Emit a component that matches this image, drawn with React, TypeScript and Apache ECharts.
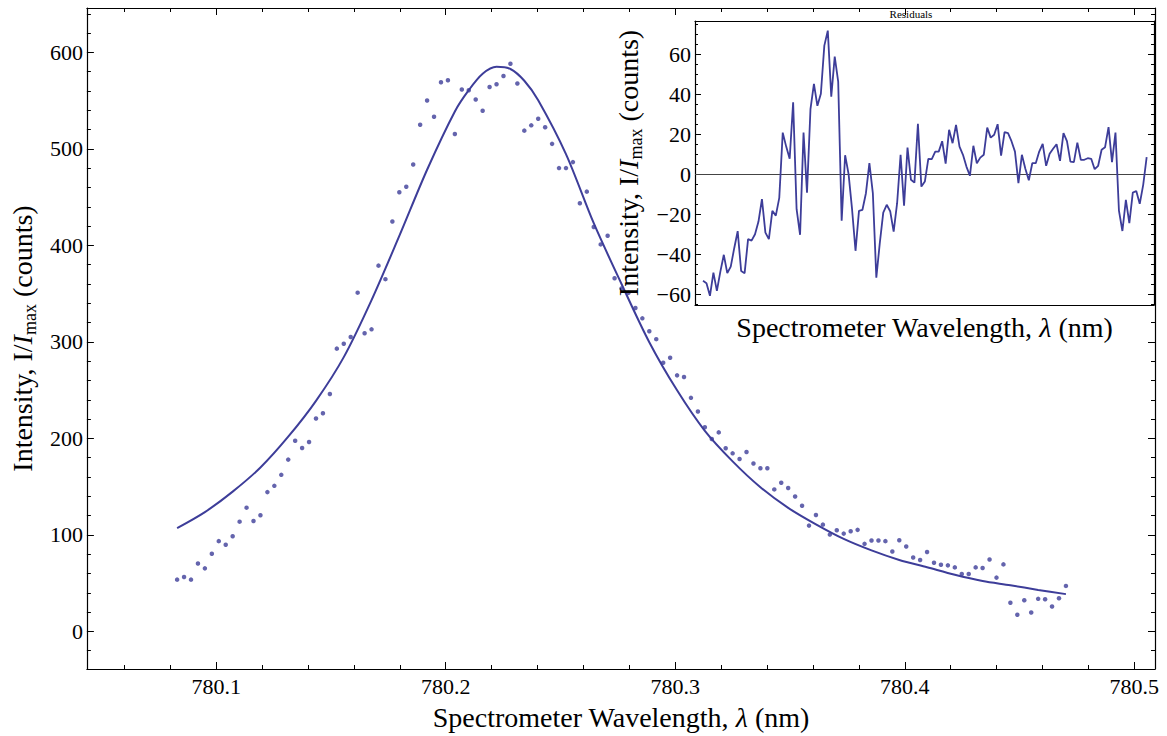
import React, { useEffect, useRef } from "react";
import * as echarts from "echarts";

// Spectrometer sampling grid (nm)
const lambdaStart = 780.083;
const lambdaStep = 0.003025;

// Measured intensity (counts), one per sample
const intensity = [
  53.6, 56.4, 53.6, 70.4, 65.3, 80.4, 93.5, 89.7, 98.6, 113.7,
  128.2, 114.4, 120.3, 144.3, 150.8, 162.2, 178, 197.6, 190, 196.2,
  220.6, 226, 246, 293, 298, 305, 351, 309, 313, 379,
  365, 424.7, 455, 460.8, 483.8, 525, 550.2, 533.3, 569, 571.1,
  515.5, 561.5, 560.8, 551.2, 539.5, 564.2, 567, 575.6, 588.3, 567.7,
  518.9, 524.4, 531.2, 522.4, 505.2, 480.1, 480.1, 486.3, 443.6, 455.7,
  419, 401, 410, 366, 355.4, 350.8, 335.1, 324.4, 311, 302.8,
  278.4, 283.5, 265.3, 263.6, 242, 227.8, 211.6, 199.3, 206.2, 189.7,
  184.5, 178.7, 185.9, 173.9, 169.1, 169.1, 147.1, 154, 148.5, 139.7,
  130.2, 109.6, 120.6, 110.6, 100.3, 104.8, 101.3, 103.8, 105.2, 90.7,
  94.1, 94.1, 93.5, 82.8, 94.5, 87.9, 76.6, 73.9, 82.2, 71.1,
  69.1, 68.4, 66.3, 59.5, 59.5, 66.3, 65.7, 74.5, 55.7, 69.4,
  29.6, 17.2, 32.3, 19.6, 33.7, 33.3, 25.8, 34.3, 47.1,
];

// Residuals (counts), one per sample
const residuals = [
  -53.3, -54.5, -60.8, -49.2, -58.3, -48.7, -40.3, -49.5, -46.2, -37,
  -28.5, -48.4, -49.5, -32.5, -33.2, -30, -23.7, -12.5, -29.2, -32.5,
  -18.3, -20.7, -11.8, 20.8, 13.8, 7.7, 36, -17.5, -30.3, 20.8,
  -9.2, 32.5, 45.2, 34.2, 40.2, 64.3, 71.8, 38.8, 58.8, 46.3,
  -23.3, 9.5, 0, -17.5, -38.3, -18.3, -17.8, -9.5, 5.5, -9.5,
  -51.7, -34.5, -19.2, -15.3, -18.5, -28.7, -14.5, 9.7, -15.8, 13.3,
  -2.8, -4.2, 25.2, -6.2, -3.7, 7.7, 7.5, 11.3, 11.3, 16.5,
  5.3, 22.2, 15.5, 24.7, 13.8, 9.7, 3.8, -0.8, 14.2, 5.5,
  8.3, 9.7, 23.3, 18.3, 19.7, 25, 9.3, 21, 20.5, 16.5,
  11.3, -4.5, 9.7, 2.7, -3, 5.5, 5.5, 11.3, 15.2, 4.2,
  10.2, 12.7, 15, 6.7, 20.5, 16.5, 6.3, 6, 15.8, 7.2,
  7.2, 8, 7.7, 2.5, 4.2, 12.2, 13.5, 23.5, 6, 20.8,
  -18.2, -28.4, -12.8, -24.5, -9.2, -8.4, -14.8, -5.3, 8.5,
];

// Fitted curve at selected sample indices
const fitSampleIndex = [
  0, 4, 8, 12, 16, 20, 24, 28, 32, 36, 40, 42, 44, 46, 48, 50, 52,
  56, 60, 64, 68, 72, 76, 80, 84, 88, 92, 96, 100, 104, 108, 112, 116, 120, 124, 128,
];
const fitIntensity = [
  107, 123.6, 144.8, 169.8, 201.7, 238.9, 284.2, 343.3, 409.8, 478.4, 538.8, 560.8, 577.8, 585, 582.8, 570.6, 550.4,
  494.6, 423, 360, 299.7, 249.8, 207.8, 176.2, 149.4, 128, 110.9, 95.8, 83.9, 74, 66.4, 58.6, 52.2, 47.8, 42.9, 38.6,
];

const mainXTickLabels = ["780.1", "780.2", "780.3", "780.4", "780.5"];
const mainYTickLabels = ["0", "100", "200", "300", "400", "500", "600"];
const insetYTickLabels = ["−60", "−40", "−20", "0", "20", "40", "60"];

const FONT = "'Liberation Serif', 'Times New Roman', Times, serif";
const BLUE = "#3d3d99";
const FRAME = "#000";

export default function App() {
  const ref = useRef<HTMLDivElement>(null);

  useEffect(() => {
    if (!ref.current) return;
    const chart = echarts.init(ref.current, null, { renderer: "svg" });
    const lam = (i: number) => +(lambdaStart + i * lambdaStep).toFixed(6);
    const mainPoints = intensity.map((v, i) => [lam(i), v]);
    const residPoints = residuals.map((v, i) => [lam(i), v]);
    const fitPoints = fitSampleIndex.map((k, j) => [lam(k), fitIntensity[j]]);

    const line = { show: true, onZero: false, lineStyle: { color: FRAME, width: 1.2 } };
    const tickStyle = { color: FRAME, width: 1 };
    const NS = 28;
    const rich = {
      it: { fontFamily: FONT, fontStyle: "italic", color: "#000", fontSize: NS, lineHeight: 34 },
      sub: { fontFamily: FONT, color: "#000", fontSize: 18, verticalAlign: "bottom", lineHeight: 34 },
      n: { fontFamily: FONT, color: "#000", fontSize: NS, lineHeight: 34 },
    };
    const nameStyle = { fontFamily: FONT, fontSize: NS, color: "#000", rich };
    const labelStyle = { fontFamily: FONT, fontSize: 22, color: "#000" };
    const fmtSet = (labels: string[]) => (v: number) => {
      const s = v < 0 ? "−" + Math.abs(Math.round(v)) : String(+v.toFixed(1));
      const hit = labels.find((l) => l === s);
      return hit ?? "";
    };
    const yName = "{n|Intensity, I/}{it|I}{sub|max}{n| (counts)}";
    const xName = "{n|Spectrometer Wavelength, }{it|λ}{n| (nm)}";

    const mainX = { min: 780.0437, max: 780.509, minInterval: 0.1, maxInterval: 0.1 };
    const mainY = { min: -39, max: 646, minInterval: 100, maxInterval: 100 };
    const insX = { min: 780.076, max: 780.4766 };
    const insY = { min: -65.4, max: 76.6, minInterval: 20, maxInterval: 20 };

    const option: any = {
      animation: false,
      backgroundColor: "#fff",
      grid: [
        { left: 80, top: 8, width: 1075, height: 664, containLabel: false },
        {
          left: 695, top: 21, width: 459, height: 284, containLabel: false,
          show: true, backgroundColor: "#fff", borderWidth: 0, z: 3,
        },
      ],
      xAxis: [
        {
          type: "value", gridIndex: 0, position: "bottom", ...mainX,
          axisLine: line,
          axisTick: { show: true, inside: true, length: 7, lineStyle: tickStyle },
          minorTick: { show: true, splitNumber: 5, length: 4, lineStyle: tickStyle },
          splitLine: { show: false },
          axisLabel: {
            ...labelStyle, margin: 6, showMinLabel: false, showMaxLabel: false,
            formatter: fmtSet(mainXTickLabels),
          },
          name: xName, nameLocation: "middle", nameGap: 31, nameTextStyle: nameStyle,
        },
        {
          type: "value", gridIndex: 0, position: "top", ...mainX,
          axisLine: line,
          axisTick: { show: true, inside: true, length: 7, lineStyle: tickStyle },
          minorTick: { show: true, splitNumber: 5, length: 4, lineStyle: tickStyle },
          splitLine: { show: false },
          axisLabel: { show: false },
        },
        {
          type: "value", gridIndex: 1, position: "bottom", ...insX, z: 4,
          axisLine: line,
          axisTick: { show: false },
          splitLine: { show: false },
          axisLabel: { show: false },
          name: xName, nameLocation: "middle", nameGap: 5, nameTextStyle: nameStyle,
        },
        {
          type: "value", gridIndex: 1, position: "top", ...insX, z: 4,
          axisLine: line,
          axisTick: { show: false },
          splitLine: { show: false },
          axisLabel: { show: false },
        },
      ],
      yAxis: [
        {
          type: "value", gridIndex: 0, position: "left", ...mainY,
          axisLine: line,
          axisTick: { show: true, inside: true, length: 7, lineStyle: tickStyle },
          minorTick: { show: true, splitNumber: 5, length: 4, lineStyle: tickStyle },
          splitLine: { show: false },
          axisLabel: {
            ...labelStyle, margin: 4, showMinLabel: false, showMaxLabel: false,
            formatter: fmtSet(mainYTickLabels),
          },
          name: yName, nameLocation: "middle", nameGap: 46, nameTextStyle: nameStyle,
        },
        {
          type: "value", gridIndex: 0, position: "right", ...mainY,
          axisLine: line,
          axisTick: { show: true, inside: true, length: 7, lineStyle: tickStyle },
          minorTick: { show: true, splitNumber: 5, length: 4, lineStyle: tickStyle },
          splitLine: { show: false },
          axisLabel: { show: false },
        },
        {
          type: "value", gridIndex: 1, position: "left", ...insY, z: 4,
          axisLine: line,
          axisTick: { show: true, inside: true, length: 6, lineStyle: tickStyle },
          minorTick: { show: true, splitNumber: 4, length: 3, lineStyle: tickStyle },
          splitLine: { show: false },
          axisLabel: {
            ...labelStyle, margin: 4, showMinLabel: false, showMaxLabel: false,
            formatter: fmtSet(insetYTickLabels),
          },
          name: yName, nameLocation: "middle", nameGap: 50, nameTextStyle: nameStyle,
        },
        {
          type: "value", gridIndex: 1, position: "right", ...insY, z: 4,
          axisLine: line,
          axisTick: { show: true, inside: true, length: 6, lineStyle: tickStyle },
          minorTick: { show: true, splitNumber: 4, length: 3, lineStyle: tickStyle },
          splitLine: { show: false },
          axisLabel: { show: false },
        },
      ],
      graphic: [
        {
          type: "text", x: 911, y: 14, z: 10,
          style: {
            text: "Residuals", fontFamily: FONT, fontSize: 11, fill: "#000",
            textAlign: "center", textVerticalAlign: "middle",
          },
        },
      ],
      series: [
        {
          type: "scatter", xAxisIndex: 0, yAxisIndex: 0, data: mainPoints,
          symbol: "circle", symbolSize: 4.5, itemStyle: { color: BLUE }, z: 2,
        },
        {
          type: "line", xAxisIndex: 0, yAxisIndex: 0, data: fitPoints,
          smooth: 0.3, showSymbol: false, symbol: "none",
          lineStyle: { color: BLUE, width: 2 }, z: 2,
        },
        {
          type: "line", xAxisIndex: 2, yAxisIndex: 2, data: residPoints,
          showSymbol: false, symbol: "none",
          lineStyle: { color: BLUE, width: 1.8 }, z: 6,
          markLine: {
            silent: true, symbol: "none", label: { show: false },
            lineStyle: { color: "#444", width: 1.2, type: "solid" },
            data: [{ yAxis: 0 }],
          },
        },
      ],
    };
    chart.setOption(option);
    return () => chart.dispose();
  }, []);

  return (
    <div
      ref={ref}
      style={{ position: "fixed", left: 0, top: 0, width: 1167, height: 736, background: "#fff" }}
    />
  );
}
